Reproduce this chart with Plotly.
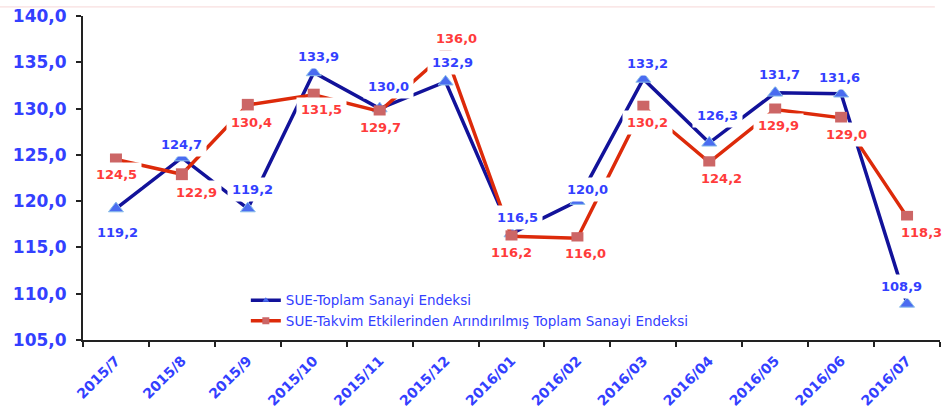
import plotly.graph_objects as go

categories = ["2015/7", "2015/8", "2015/9", "2015/10", "2015/11", "2015/12",
              "2016/01", "2016/02", "2016/03", "2016/04", "2016/05", "2016/06", "2016/07"]
sue_total = [119.2, 124.7, 119.2, 133.9, 130.0, 132.9, 116.5, 120.0, 133.2, 126.3, 131.7, 131.6, 108.9]
sue_adjusted = [124.5, 122.9, 130.4, 131.5, 129.7, 136.0, 116.2, 116.0, 130.2, 124.2, 129.9, 129.0, 118.3]
y_tick_values = [105, 110, 115, 120, 125, 130, 135, 140]
series_names = ["SUE-Toplam Sanayi Endeksi",
                "SUE-Takvim Etkilerinden Arındırılmış Toplam Sanayi Endeksi"]

# label placement (pixel offsets from the point: dx right, dy down)
blue_offsets = [(2, 24), (0, -13), (5, -19), (5, -16), (9, -22), (7, -19), (6, -16),
                (10, -12), (4, -15), (8, -27), (4, -18), (-2, -16), (-6, -17)]
red_offsets = [(1, 15), (15, 18), (4, 18), (8, 15), (1, 16), (11, -15), (0, 16),
               (8, 15), (4, 16), (12, 16), (3, 16), (5, 17), (14, 16)]

BLUE_LINE = "#12129a"
BLUE_MARK = "#4a6cf0"
BLUE_TEXT = "#3340ff"
RED_LINE = "#dd2a0a"
RED_MARK = "#cc6666"
RED_TEXT = "#ff3b3b"

fig = go.Figure()

fig.add_trace(go.Scatter(
    x=categories, y=sue_total, mode="lines+markers", showlegend=False,
    line=dict(color=BLUE_LINE, width=3.5),
    marker=dict(symbol="triangle-up", size=13, color=BLUE_MARK,
                line=dict(color="#8cc0ea", width=1)),
))
fig.add_trace(go.Scatter(
    x=categories, y=sue_adjusted, mode="lines+markers", showlegend=False,
    line=dict(color=RED_LINE, width=3.5),
    marker=dict(symbol="square", size=12, color=RED_MARK,
                line=dict(color=RED_MARK, width=0)),
))

# legend-only entries with small markers
fig.add_trace(go.Scatter(
    x=[None], y=[None], mode="lines+markers", name=series_names[0],
    line=dict(color=BLUE_LINE, width=3.5),
    marker=dict(symbol="triangle-up", size=6, color=BLUE_MARK),
))
fig.add_trace(go.Scatter(
    x=[None], y=[None], mode="lines+markers", name=series_names[1],
    line=dict(color=RED_LINE, width=3.5),
    marker=dict(symbol="square", size=7, color=RED_MARK),
))

def fmt(v):
    return f"{v:.1f}".replace(".", ",")

annotations = []
for cat, v, (dx, dy) in zip(categories, sue_total, blue_offsets):
    annotations.append(dict(
        x=cat, y=v, xref="x", yref="y", text=fmt(v), showarrow=False,
        xanchor="center", yanchor="middle", xshift=dx, yshift=-dy,
        bgcolor="white", borderpad=4,
        font=dict(family="DejaVu Sans", size=13, color=BLUE_TEXT, weight="bold"),
    ))
for cat, v, (dx, dy) in zip(categories, sue_adjusted, red_offsets):
    annotations.append(dict(
        x=cat, y=v, xref="x", yref="y", text=fmt(v), showarrow=False,
        xanchor="center", yanchor="middle", xshift=dx, yshift=-dy,
        bgcolor="white", borderpad=4,
        font=dict(family="DejaVu Sans", size=13, color=RED_TEXT, weight="bold"),
    ))

fig.update_layout(
    width=952, height=411,
    margin=dict(l=83, r=12, t=16, b=71, autoexpand=False),
    paper_bgcolor="white", plot_bgcolor="white",
    separators=",.",
    annotations=annotations,
    showlegend=True,
    legend=dict(
        x=0.19, y=0.17, xanchor="left", yanchor="top",
        bgcolor="rgba(0,0,0,0)",
        font=dict(family="DejaVu Sans", size=13.5, color=BLUE_TEXT),
        tracegroupgap=0, itemsizing="trace",
    ),
    shapes=[dict(type="line", xref="paper", yref="paper",
                 x0=-0.097, x1=0.994, y0=1.028, y1=1.028,
                 line=dict(color="#f6d6d6", width=1))],
)

fig.update_xaxes(
    type="category", range=[-0.5, len(categories) - 0.5], automargin=False,
    showgrid=False, showline=True, linecolor="#222222", linewidth=2,
    ticks="outside", tickson="boundaries", ticklen=5, tickwidth=1.5, tickcolor="#222222",
    tickangle=-45, ticklabelstandoff=5,
    tickfont=dict(family="DejaVu Sans", size=14, color=BLUE_TEXT, weight="bold"),
    zeroline=False,
)
fig.update_yaxes(
    range=[105, 140], tickvals=y_tick_values, tickformat=".1f", automargin=False,
    showgrid=False, showline=True, linecolor="#222222", linewidth=2,
    ticks="outside", ticklen=5, tickwidth=1.5, tickcolor="#222222",
    ticklabelstandoff=6, ticklabeloverflow="allow",
    tickfont=dict(family="DejaVu Sans", size=17, color=BLUE_TEXT, weight="bold"),
    zeroline=False,
)

# remove the page's default body margin so the figure sits at the window's top-left corner
fig.write_html("out.html", config={"displayModeBar": False},
               post_script="document.body.style.margin='0';")
